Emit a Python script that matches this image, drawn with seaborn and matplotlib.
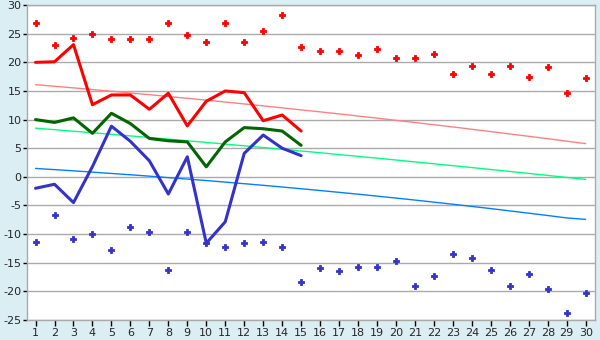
import numpy as np
import pandas as pd
import seaborn as sns
import matplotlib.pyplot as plt

# Datos
dias = list(range(1, 31))

max_puntos = [26.8, 23.0, 24.2, 25.0, 24.0, 24.0, 24.0, 26.8, 24.8, 23.5,
              26.9, 23.6, 25.4, 28.3, 22.6, 21.9, 21.9, 21.2, 22.4, 20.8,
              20.8, 21.4, 18.0, 19.4, 17.9, 19.3, 17.5, 19.1, 14.7, 17.2]
min_puntos = [-11.3, -6.7, -10.8, -10.0, -12.8, -8.8, -9.7, -16.2, -9.7, -11.5,
              -12.3, -11.6, -11.45, -12.3, -18.4, -16.0, -16.5, -15.8, -15.8, -14.7,
              -19.1, -17.4, -13.5, -14.1, -16.2, -19.1, -17.0, -19.65, -23.8, -20.35]

dias_linea = list(range(1, 16))
linea_max = [20.0, 20.1, 23.1, 12.6, 14.3, 14.3, 11.8, 14.6, 8.9, 13.2,
             15.0, 14.7, 9.8, 10.8, 8.0]
linea_media = [10.0, 9.5, 10.3, 7.6, 11.1, 9.3, 6.7, 6.3, 6.1, 1.75,
               6.1, 8.6, 8.4, 8.0, 5.5]
linea_min = [-2.0, -1.3, -4.5, 1.8, 8.85, 6.2, 2.8, -3.0, 3.5, -11.6,
             -7.85, 4.1, 7.3, 5.0, 3.7]

tend_max = [16.10, 15.82, 15.54, 15.25, 14.95, 14.65, 14.35, 14.03, 13.72, 13.40,
            13.07, 12.73, 12.40, 12.05, 11.70, 11.35, 10.99, 10.62, 10.25, 9.87,
            9.49, 9.10, 8.71, 8.31, 7.90, 7.49, 7.08, 6.66, 6.23, 5.80]
tend_media = [8.50, 8.24, 7.97, 7.70, 7.43, 7.15, 6.87, 6.59, 6.30, 6.01,
              5.72, 5.42, 5.12, 4.82, 4.51, 4.21, 3.89, 3.58, 3.26, 2.94,
              2.61, 2.28, 1.95, 1.62, 1.28, 0.94, 0.60, 0.25, -0.10, -0.45]
tend_min = [1.47, 1.26, 1.05, 0.82, 0.59, 0.36, 0.12, -0.14, -0.39, -0.65,
            -0.92, -1.20, -1.48, -1.78, -2.08, -2.39, -2.71, -3.03, -3.37, -3.71,
            -4.06, -4.42, -4.79, -5.17, -5.55, -5.95, -6.35, -6.76, -7.18, -7.43]

df = pd.DataFrame({'dia': dias, 'max': max_puntos, 'min': min_puntos,
                   't_max': tend_max, 't_media': tend_media, 't_min': tend_min})
df_l = pd.DataFrame({'dia': dias_linea, 'max': linea_max,
                     'media': linea_media, 'min': linea_min})

sns.set_style('white')
plt.rcParams['font.family'] = 'DejaVu Sans'
plt.rcParams['axes.unicode_minus'] = False

fig = plt.figure(figsize=(6, 3.4), dpi=100, facecolor='#DAEEF3')
ax = fig.add_axes([0.045, 0.059, 0.947, 0.926])
ax.set_facecolor('white')

# Lineas de tendencia (finas)
sns.lineplot(data=df, x='dia', y='t_max', color='#FF8080', linewidth=1, ax=ax)
sns.lineplot(data=df, x='dia', y='t_media', color='#00FF80', linewidth=1, ax=ax)
sns.lineplot(data=df, x='dia', y='t_min', color='#0080FF', linewidth=1, ax=ax)

# Lineas principales
sns.lineplot(data=df_l, x='dia', y='max', color='#FF0000', linewidth=2.2, ax=ax)
sns.lineplot(data=df_l, x='dia', y='media', color='#006600', linewidth=2.2, ax=ax)
sns.lineplot(data=df_l, x='dia', y='min', color='#3333CC', linewidth=2.2, ax=ax)

# Puntos
ax.plot(df['dia'], df['max'], linestyle='none', marker='P', markersize=4.5,
        color='#FF0000', markeredgewidth=0.6)
ax.plot(df['dia'], df['min'], linestyle='none', marker='P', markersize=4.5,
        color='#3333CC', markeredgewidth=0.6)

ax.set_xlim(0.55, 30.5)
ax.set_ylim(-25, 30)
ax.set_xticks(dias)
ax.set_yticks(np.arange(-25, 31, 5))
ax.set_xlabel('')
ax.set_ylabel('')
ax.yaxis.grid(True, color='#AAAAAA', linewidth=1)
ax.xaxis.grid(False)
for s in ax.spines.values():
    s.set_color('#AAAAAA')
    s.set_linewidth(1)
ax.tick_params(axis='x', direction='out', length=4, width=1, color='black',
               labelsize=8, pad=2, bottom=True)
ax.tick_params(axis='y', direction='out', length=3, width=1, color='black',
               labelsize=8, pad=1, left=True)

plt.savefig('out.png', dpi=100, facecolor=fig.get_facecolor())
